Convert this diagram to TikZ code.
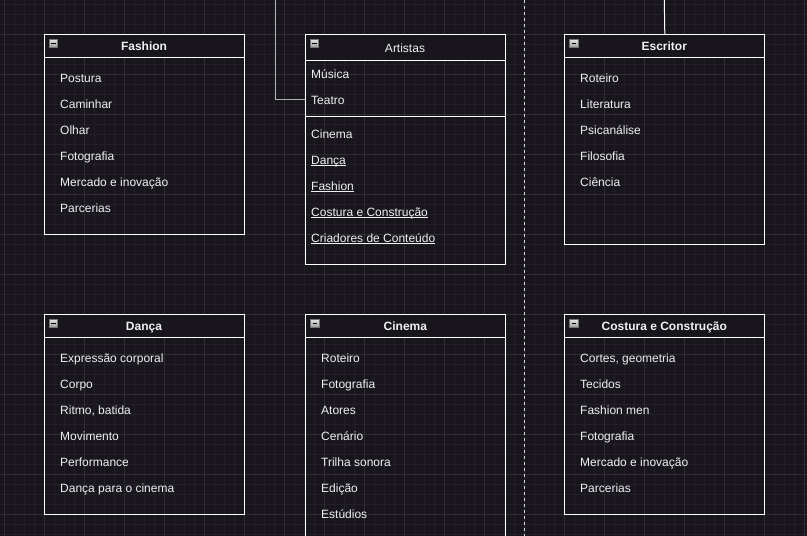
\documentclass[tikz,border=0pt]{standalone}
\usepackage{fontspec}
\setmainfont{Liberation Sans}
\definecolor{bg}{HTML}{18151D}
\definecolor{gminor}{HTML}{221F28}
\definecolor{gmajor}{HTML}{302D35}
\definecolor{txt}{HTML}{F0F0F0}
\definecolor{connc}{HTML}{B0B0B0}
\newcommand\ulink[1]{\sbox0{#1}\rlap{\rule[-1.3pt]{\wd0}{0.8pt}}\usebox0}
\newcommand\minusicon[2]{%
  \shade[top color=white!90!black, bottom color=white!60!black, draw=white!45!black, line width=0.6pt]
    (#1+5,#2+5) rectangle (#1+13.7,#2+13.7);
  \draw[black, line width=1.3pt] (#1+7.2,#2+9.4) -- (#1+11.5,#2+9.4);}
\begin{document}
\begin{tikzpicture}[x=1pt,y=-1pt,
  box/.style={draw=white, line width=1pt, minimum width=200pt, anchor=north west, inner sep=0pt},
  head/.style={draw=white, fill=bg, line width=1pt},
  item/.style={anchor=west, inner sep=0pt, text height=10pt, text depth=0pt, text=txt, font=\fontsize{12}{14}\selectfont},
  ttl/.style={anchor=center, inner sep=0pt, text height=10pt, text depth=0pt, text=txt, font=\fontsize{12}{14}\selectfont\bfseries},
  ttlplain/.style={anchor=center, inner sep=0pt, text height=10pt, text depth=0pt, text=txt, font=\fontsize{12}{14}\selectfont},
  sep/.style={draw=white, line width=1pt},
  conn/.style={draw=connc, line width=1pt},
  connw/.style={draw=white, line width=1pt},
  dashline/.style={draw=white!85!black, line width=1pt, dash pattern=on 3pt off 3pt}]
\useasboundingbox (0,0) rectangle (807,536);
\clip (0,0) rectangle (807,536);
\fill[bg] (0,0) rectangle (807,536);
\foreach \x in {4,14,...,804} \draw[gminor, line width=1pt] (\x,0) -- (\x,536);
\foreach \y in {4,14,...,534} \draw[gminor, line width=1pt] (0,\y) -- (807,\y);
\foreach \x in {4,44,...,804} \draw[gmajor, line width=1pt] (\x,0) -- (\x,536);
\foreach \y in {34,74,...,514} \draw[gmajor, line width=1pt] (0,\y) -- (807,\y);

% dashed separator
\coordinate (dtop) at (524.3,0);
\coordinate (dbot) at (524.3,536);
\draw[dashline] (dtop) -- (dbot);

% ---------- Fashion ----------
\node[box, minimum height=200pt] (fashion) at (44,34) {};
\draw[head] (44,34) rectangle (244,57);
\minusicon{44}{34}
\node[ttl] (fashiont) at (144,45.5) {Fashion};
\node[item] (f1) at (60,77) {Postura};
\node[item] (f2) at (60,103) {Caminhar};
\node[item] (f3) at (60,129) {Olhar};
\node[item] (f4) at (60,155) {Fotografia};
\node[item] (f5) at (60,181) {Mercado e inovação};
\node[item] (f6) at (60,207) {Parcerias};

% ---------- Artistas ----------
\node[box, minimum height=230pt] (artistas) at (305,34) {};
\draw[head] (305,34) rectangle (505,60);
\minusicon{305}{34}
\node[ttlplain] (artistast) at (405,47) {Artistas};
\node[item] (a1) at (311,73) {Música};
\node[item] (a2) at (311,99) {Teatro};
\draw[sep] (305,116.3) -- (505,116.3);
\node[item] (a3) at (311,133) {Cinema};
\node[item] (a4) at (311,159) {\ulink{Dança}};
\node[item] (a5) at (311,185) {\ulink{Fashion}};
\node[item] (a6) at (311,211) {\ulink{Costura e Construção}};
\node[item] (a7) at (311,237) {\ulink{Criadores de Conteúdo}};

% ---------- Escritor ----------
\node[box, minimum height=210pt] (escritor) at (564.3,34) {};
\draw[head] (564.3,34) rectangle (764.3,57);
\minusicon{564.3}{34}
\node[ttl] (escritort) at (664.3,45.5) {Escritor};
\node[item] (e1) at (580,77) {Roteiro};
\node[item] (e2) at (580,103) {Literatura};
\node[item] (e3) at (580,129) {Psicanálise};
\node[item] (e4) at (580,155) {Filosofia};
\node[item] (e5) at (580,181) {Ciência};

% ---------- Dança ----------
\node[box, minimum height=200pt] (danca) at (44,314) {};
\draw[head] (44,314) rectangle (244,337);
\minusicon{44}{314}
\node[ttl] (dancat) at (144,325.5) {Dança};
\node[item] (d1) at (60,357) {Expressão corporal};
\node[item] (d2) at (60,383) {Corpo};
\node[item] (d3) at (60,409) {Ritmo, batida};
\node[item] (d4) at (60,435) {Movimento};
\node[item] (d5) at (60,461) {Performance};
\node[item] (d6) at (60,487) {Dança para o cinema};

% ---------- Cinema ----------
\node[box, minimum height=240pt] (cinema) at (305.3,314) {};
\draw[head] (305.3,314) rectangle (505.5,337);
\minusicon{305.3}{314}
\node[ttl] (cinemat) at (405.4,325.5) {Cinema};
\node[item] (c1) at (321,357) {Roteiro};
\node[item] (c2) at (321,383) {Fotografia};
\node[item] (c3) at (321,409) {Atores};
\node[item] (c4) at (321,435) {Cenário};
\node[item] (c5) at (321,461) {Trilha sonora};
\node[item] (c6) at (321,487) {Edição};
\node[item] (c7) at (321,513) {Estúdios};

% ---------- Costura e Construção ----------
\node[box, minimum height=200pt] (costura) at (564.3,314) {};
\draw[head] (564.3,314) rectangle (764.3,337);
\minusicon{564.3}{314}
\node[ttl] (costurat) at (664.3,325.5) {Costura e Construção};
\node[item] (s1) at (580,357) {Cortes, geometria};
\node[item] (s2) at (580,383) {Tecidos};
\node[item] (s3) at (580,409) {Fashion men};
\node[item] (s4) at (580,435) {Fotografia};
\node[item] (s5) at (580,461) {Mercado e inovação};
\node[item] (s6) at (580,487) {Parcerias};

% ---------- connectors ----------
\coordinate (ctop) at (275,0);
\draw[conn] (ctop) |- (a2 -| artistas.west);
\coordinate (etop) at (664.3,0);
\draw[connw] (etop) -- (escritor.north);
\end{tikzpicture}
\end{document}
